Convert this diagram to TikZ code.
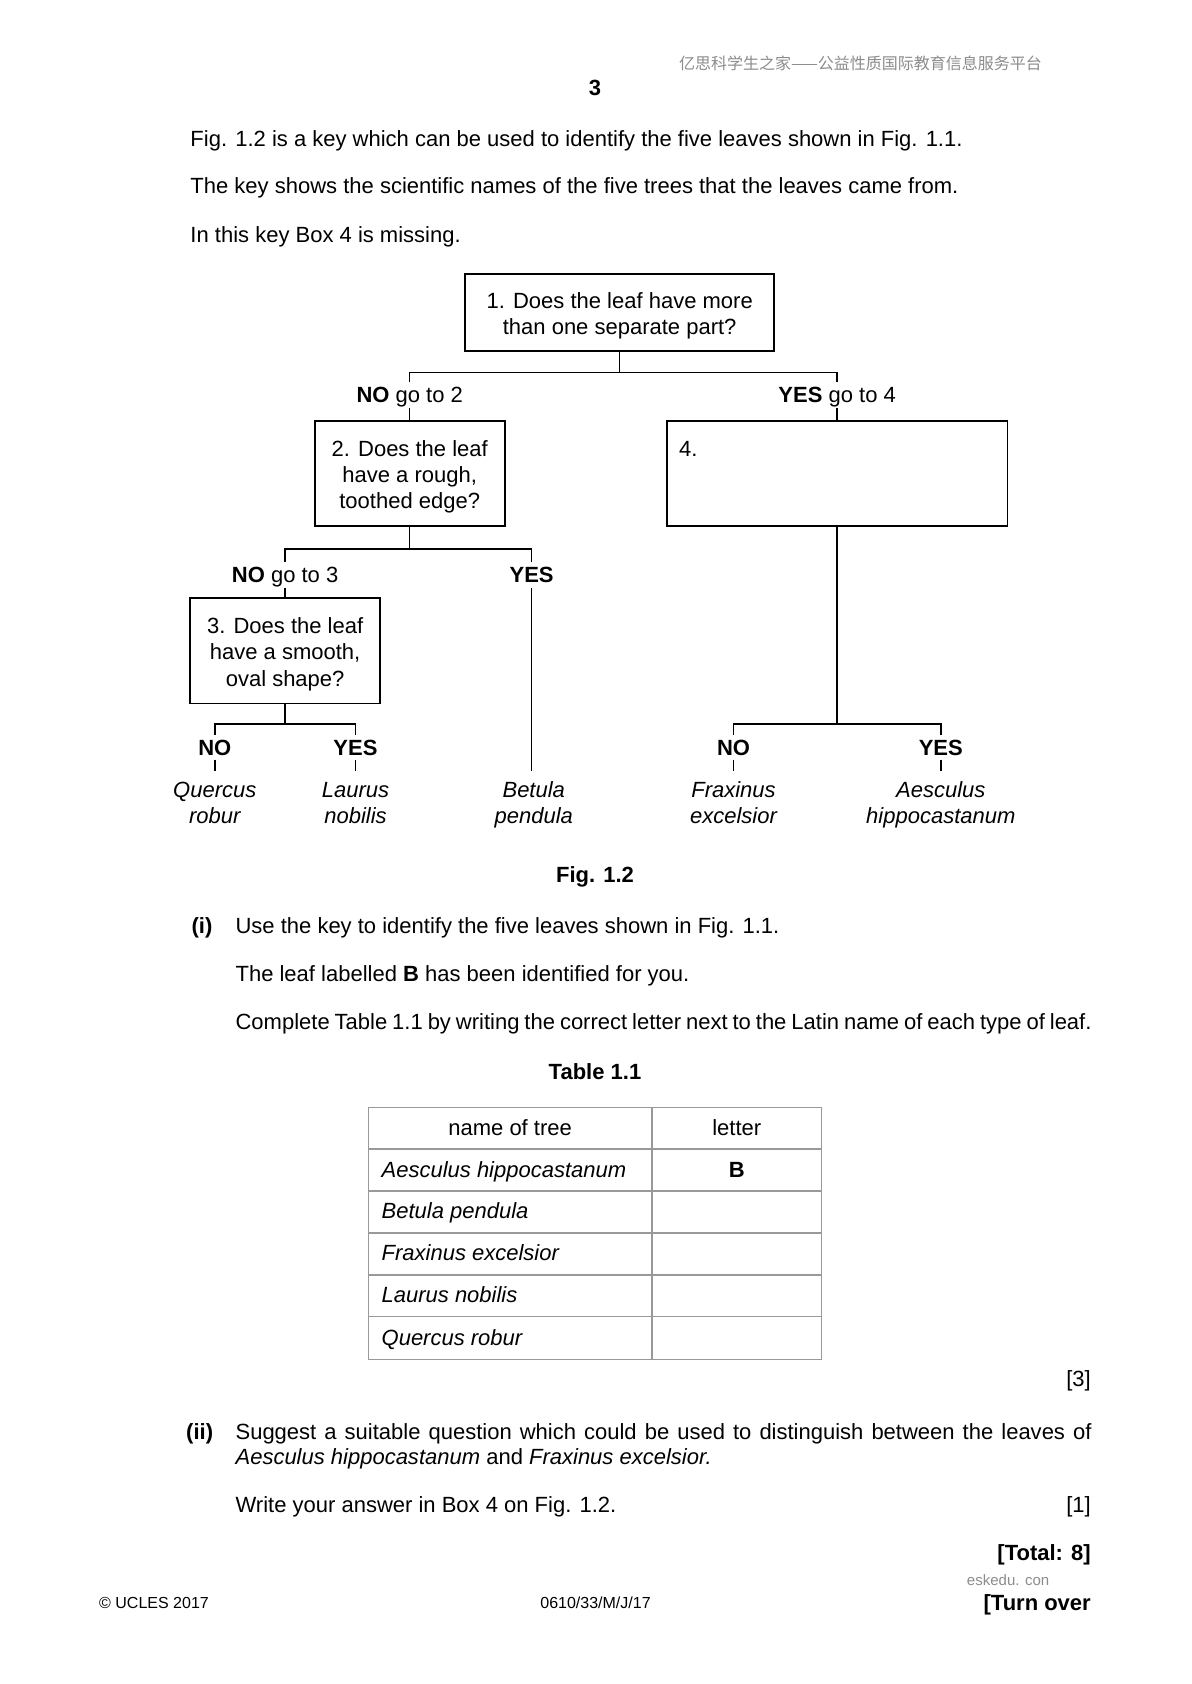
\documentclass[tikz,border=0pt]{standalone}
\usepackage{fontspec}
\setmainfont{Liberation Sans}
\newfontfamily\cjkfont{Noto Sans CJK SC}
\newcommand\pxu{0.53697pt}
\newlength\pxlen
\setlength\pxlen{0.53697pt}
\newcommand\myfs{\fontsize{11}{13.2}\selectfont}
\newcommand\fitline[1]{\hbox to 797\pxlen{\spaceskip=0.278em plus 0.3em minus 0.15em #1}}
\newcommand\topst{\rule{0pt}{11.2pt}}
\newcommand\spst{\rule{0pt}{9pt}}
\definecolor{tgray}{gray}{0.6}
\definecolor{wmgray}{gray}{0.55}
\begin{document}
\begin{tikzpicture}[x=0.53697pt, y=-0.53697pt,
  every node/.style={font=\myfs, inner sep=0pt},
  qbox/.style={draw, line width=0.9pt, align=center, inner sep=0pt},
  conn/.style={line width=0.75pt},
  lbl/.style={anchor=base, inner sep=2pt, text height=8pt, text depth=0.5pt},
  sp/.style={anchor=north, align=center, inner sep=4pt, font=\myfs\itshape},
  txt/.style={anchor=base west},
  rtxt/.style={anchor=base east},
  ctxt/.style={anchor=base},
  tabline/.style={draw=tgray, line width=0.7pt}]
\fill[white] (0,0) rectangle (1109,1568);
\useasboundingbox (0,0) rectangle (1109,1568);

% header
\node[txt, font=\fontsize{8}{9.6}\cjkfont, text=wmgray] (wm) at (632,65) {亿思科学生之家——公益性质国际教育信息服务平台};
\node[ctxt, font=\myfs\bfseries] (pg) at (554,89) {3};

% intro text
\node[txt] (t1) at (177,136) {Fig. 1.2 is a key which can be used to identify the five leaves shown in Fig. 1.1.};
\node[txt] (t2) at (177,180) {The key shows the scientific names of the five trees that the leaves came from.};
\node[txt] (t3) at (177,225.5) {In this key Box 4 is missing.};

% key boxes
\node[qbox, minimum width=288*\pxu, minimum height=72*\pxu] (b1) at (577,291) {\topst 1. Does the leaf have more\\than one separate part?};
\node[qbox, minimum width=177*\pxu, minimum height=98*\pxu] (b2) at (381.5,441) {\topst 2. Does the leaf\\have a rough,\\toothed edge?};
\node[qbox, minimum width=317*\pxu, minimum height=98*\pxu] (b4) at (779.5,441) {};
\node[txt] (b4l) at (632,425) {4.};
\node[qbox, minimum width=177*\pxu, minimum height=98*\pxu] (b3) at (265.5,606) {\topst 3. Does the leaf\\have a smooth,\\oval shape?};

% branch labels
\node[lbl] (n2) at (381.5,375) {\textbf{NO} go to 2};
\node[lbl] (y4) at (779.5,375) {\textbf{YES} go to 4};
\node[lbl] (n3) at (265.5,542) {\textbf{NO} go to 3};
\node[lbl] (yb) at (495,542) {\textbf{YES}};
\node[lbl] (nq) at (200,703) {\textbf{NO}};
\node[lbl] (yl) at (331,703) {\textbf{YES}};
\node[lbl] (nf) at (683,703) {\textbf{NO}};
\node[lbl] (ya) at (876,703) {\textbf{YES}};

% species
\node[sp] (qr) at (200,718) {\spst Quercus\\robur};
\node[sp] (lnb) at (331,718) {\spst Laurus\\nobilis};
\node[sp] (bp) at (497,718) {\spst Betula\\pendula};
\node[sp] (fe) at (683,718) {\spst Fraxinus\\excelsior};
\node[sp] (ah) at (876,718) {\spst Aesculus\\hippocastanum};

% connectors
\coordinate (j1) at (577,347);
\draw[conn] (b1.south) -- (j1);
\draw[conn] (n2.north) |- (j1) -| (y4.north);
\draw[conn] (n2.south) -- (b2.north);
\draw[conn] (y4.south) -- (b4.north);
\coordinate (j2) at (381.5,511);
\draw[conn] (b2.south) -- (j2);
\draw[conn] (n3.north) |- (j2) -| (yb.north);
\draw[conn] (n3.south) -- (b3.north);
\draw[conn] (yb.south) -- (yb.south |- bp.north);
\coordinate (j3) at (265.5,674);
\draw[conn] (b3.south) -- (j3);
\draw[conn] (nq.north) |- (j3) -| (yl.north);
\draw[conn] (nq.south) -- (qr.north);
\draw[conn] (yl.south) -- (lnb.north);
\coordinate (j4) at (779.5,674);
\draw[conn] (b4.south) -- (j4);
\draw[conn] (nf.north) |- (j4) -| (ya.north);
\draw[conn] (nf.south) -- (fe.north);
\draw[conn] (ya.south) -- (ah.north);

\node[ctxt, font=\myfs\bfseries] (fig) at (554,822) {Fig. 1.2};

% part (i)
\node[txt, font=\myfs\bfseries] (pi) at (178,869) {(i)};
\node[txt] (i1) at (219,869) {Use the key to identify the five leaves shown in Fig. 1.1.};
\node[txt] (i2) at (219,914) {The leaf labelled \textbf{B} has been identified for you.};
\node[txt] (i3) at (219,959) {\fitline{Complete Table 1.1 by writing the correct letter next to the Latin name of each type of leaf.}};
\node[ctxt, font=\myfs\bfseries] (tt) at (554,1005) {Table 1.1};

% table
\draw[tabline] (343,1031) rectangle (765,1266);
\draw[tabline] (607,1031) -- (607,1266);
\foreach \yy in {1070,1109,1148,1187,1226} \draw[tabline] (343,\yy) -- (765,\yy);
\node[ctxt] (th1) at (475,1057) {name of tree};
\node[ctxt] (th2) at (686,1057) {letter};
\node[txt, font=\myfs\itshape] (r1) at (355,1096) {Aesculus hippocastanum};
\node[ctxt, font=\myfs\bfseries] (r1b) at (686,1096) {B};
\node[txt, font=\myfs\itshape] (r2) at (355,1135) {Betula pendula};
\node[txt, font=\myfs\itshape] (r3) at (355,1174) {Fraxinus excelsior};
\node[txt, font=\myfs\itshape] (r4) at (355,1213) {Laurus nobilis};
\node[txt, font=\myfs\itshape] (r5) at (355,1253) {Quercus robur};
\node[rtxt] (m3) at (1016,1291) {[3]};

% part (ii)
\node[txt, font=\myfs\bfseries] (pii) at (173,1340) {(ii)};
\node[txt] (ii1) at (219,1340) {\fitline{Suggest a suitable question which could be used to distinguish between the leaves of}};
\node[txt] (ii2) at (219,1364) {\textit{Aesculus hippocastanum} and \textit{Fraxinus excelsior.}};
\node[txt] (ii3) at (219,1408) {Write your answer in Box 4 on Fig. 1.2.};
\node[rtxt] (m1) at (1016,1408) {[1]};
\node[rtxt, font=\myfs\bfseries] (tot) at (1016,1453) {[Total: 8]};

% footer
\node[txt, font=\fontsize{7.5}{9}\selectfont, text=wmgray] (esk) at (900,1476) {eskedu. con};
\node[txt, font=\fontsize{8}{9.6}\selectfont] (fl) at (92,1498) {© UCLES 2017};
\node[ctxt, font=\fontsize{8}{9.6}\selectfont] (fc) at (554.5,1498) {0610/33/M/J/17};
\node[rtxt, font=\myfs\bfseries] (fr) at (1016,1500) {[Turn over};
\end{tikzpicture}
\end{document}
